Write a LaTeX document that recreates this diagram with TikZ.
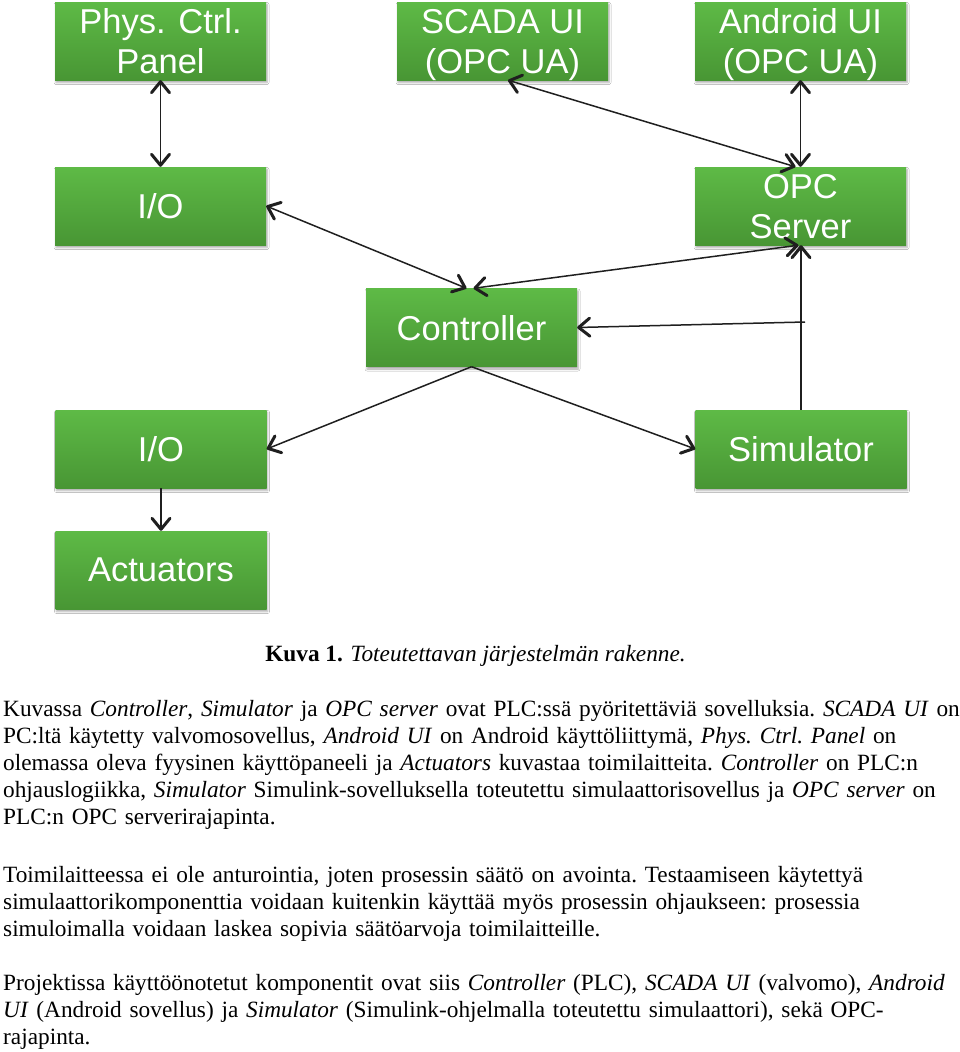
\documentclass[tikz,border=0pt]{standalone}
\usepackage{fontspec}
\setmainfont{Liberation Serif}
\newfontfamily\boxfont{Liberation Sans}
\usepackage{tikz}
\usetikzlibrary{arrows.meta,shadows.blur}
\definecolor{boxtop}{RGB}{94,186,70}
\definecolor{boxbottom}{RGB}{72,150,52}
\definecolor{linkgray}{gray}{0.12}

\tikzset{
  openbarb/.tip={Straight Barb[length=11pt, width=18pt, line width=3pt 0 0, round]},
  greenbox/.style={rectangle, minimum width=211pt, minimum height=78pt, inner sep=0pt,
    top color=boxtop, bottom color=boxbottom, align=center, text=white, text depth=0pt,
    font=\boxfont\fontsize{34.5}{40}\selectfont,
    blur shadow={shadow xshift=1pt, shadow yshift=-2.5pt, shadow blur radius=2pt, shadow opacity=35}},
  link/.style={line width=1.5pt, color=linkgray},
  bodytext/.style={anchor=base west, inner sep=0pt, text width=1000pt, align=left,
    font=\fontsize{23.3}{27.2}\selectfont\frenchspacing}
}

\begin{document}
\begin{tikzpicture}[x=1pt, y=-1pt]
% Rahmen
\useasboundingbox (0,0) rectangle (960,1052);
\fill[white] (0,0) rectangle (960,1052);

% Kaesten
\node[greenbox] (panel)   at (160.5,41)  {Phys. Ctrl.\\Panel};
\node[greenbox] (scada)   at (502.5,41)  {SCADA UI\\(OPC UA)};
\node[greenbox] (android) at (800.5,41)  {Android UI\\(OPC UA)};
\node[greenbox] (ioA)     at (160.5,206) {I/O};
\node[greenbox] (opc)     at (800.5,206) {OPC\\Server};
\node[greenbox] (ctrl)    at (471.5,327.5) {Controller};
\node[greenbox] (ioB)     at (161,449)   {I/O};
\node[greenbox] (sim)     at (801,449)   {Simulator};
\node[greenbox] (act)     at (161,570)   {Actuators};

% Verbindungen
\draw[link,{openbarb}-{openbarb}] (panel) -- (ioA);
\draw[link,{openbarb}-{openbarb}] ([xshift=5.5pt]scada.south) -- ([xshift=-5pt]opc.north);
\draw[link,{openbarb}-{openbarb}] (android) -- (opc);
\draw[link,{openbarb}-{openbarb}] (ioA.east) -- ([xshift=-5pt]ctrl.north);
\draw[link,{openbarb}-{openbarb}] ([xshift=2pt]ctrl.north) -- ([xshift=-2pt]opc.south);
\draw[link,-{openbarb}] (sim.north) -- (sim.north |- opc.south);
\coordinate (tap) at (805,322);
\draw[link,-{openbarb}] (tap) -- (ctrl.east);
\draw[link,-{openbarb}] (ctrl.south) -- (ioB.east);
\draw[link,-{openbarb}] (ctrl.south) -- (sim.west);
\draw[link,-{openbarb}] (ioB) -- (act);

% Bildunterschrift
\node[anchor=base, inner sep=0pt, font=\fontsize{23.3}{27.2}\selectfont] (caption) at (475.5,661)
  {\textbf{Kuva 1.} \textit{Toteutettavan järjestelmän rakenne.}};

% Text
\node[bodytext] (para1) at (3,716) {Kuvassa \textit{Controller}, \textit{Simulator} ja \textit{OPC server} ovat PLC:ssä pyöritettäviä sovelluksia. \textit{SCADA UI} on\\
PC:ltä käytetty valvomosovellus, \textit{Android UI} on Android käyttöliittymä, \textit{Phys. Ctrl. Panel} on\\
olemassa oleva fyysinen käyttöpaneeli ja \textit{Actuators} kuvastaa toimilaitteita. \textit{Controller} on PLC:n\\
ohjauslogiikka, \textit{Simulator} Simulink-sovelluksella toteutettu simulaattorisovellus ja \textit{OPC server} on\\
PLC:n OPC serverirajapinta.};

\node[bodytext] (para2) at (3,882) {Toimilaitteessa ei ole anturointia, joten prosessin säätö on avointa. Testaamiseen käytettyä\\
simulaattorikomponenttia voidaan kuitenkin käyttää myös prosessin ohjaukseen: prosessia\\
simuloimalla voidaan laskea sopivia säätöarvoja toimilaitteille.};

\node[bodytext] (para3) at (3,990) {Projektissa käyttöönotetut komponentit ovat siis \textit{Controller} (PLC), \textit{SCADA UI} (valvomo), \textit{Android}\\
\textit{UI} (Android sovellus) ja \textit{Simulator} (Simulink-ohjelmalla toteutettu simulaattori), sekä OPC-\\
rajapinta.};
\end{tikzpicture}
\end{document}
